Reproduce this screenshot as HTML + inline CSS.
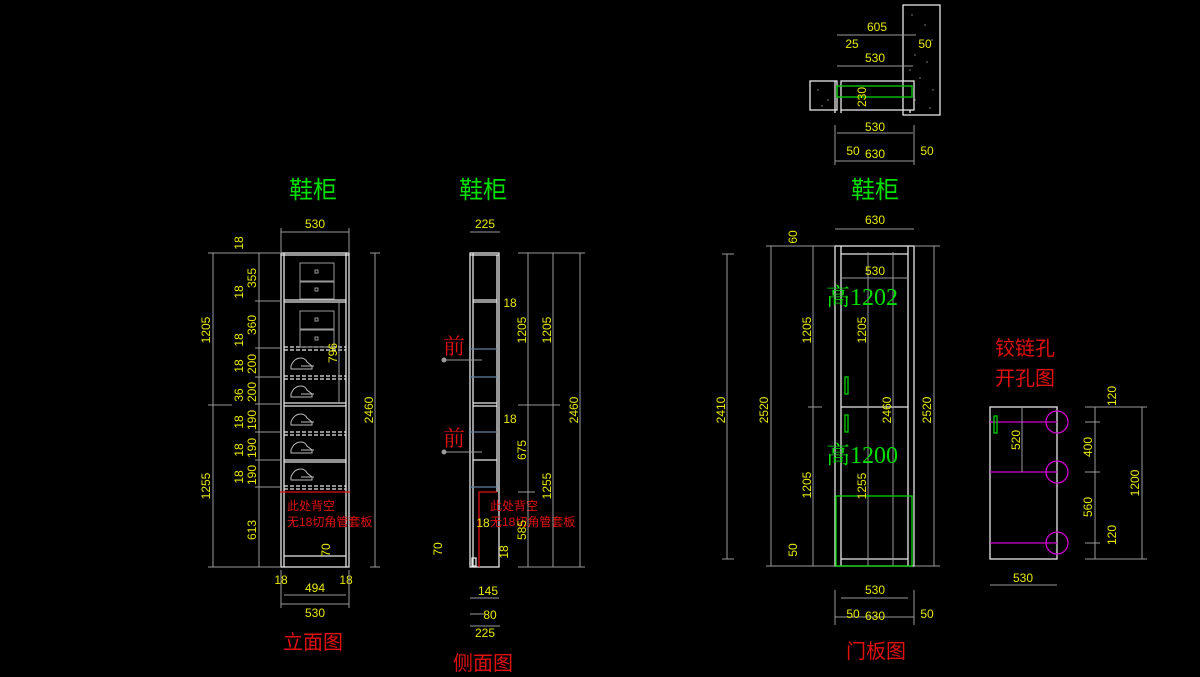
<!DOCTYPE html>
<html><head><meta charset="utf-8"><style>
body{margin:0;background:#000;}
svg{display:block}
text{font-family:"Liberation Sans","Noto Sans CJK SC",sans-serif}
.d{fill:#e8e800;font-size:12px;text-anchor:middle}
.t{fill:#00e000;font-size:24px;text-anchor:middle}
.ts{fill:#00e000;font-size:24px;text-anchor:middle;font-family:"Liberation Serif","Noto Serif CJK SC",serif}
.r{fill:#e01010;font-size:20px;text-anchor:middle}
.rf{fill:#e01010;font-size:22px;text-anchor:middle;font-family:"Liberation Serif","Noto Serif CJK SC",serif}
.rs{fill:#e01010;font-size:12px}
.w{stroke:#e8e8e8;fill:none;stroke-width:1.3}
.g{stroke:#9a9a9a;fill:none;stroke-width:1}
.gr{stroke:#00d000;fill:none;stroke-width:1.3}
.m{stroke:#d000d0;fill:none;stroke-width:1.3}
.bl{stroke:#6080a0;stroke-width:1.3}
</style></head><body>
<svg width="1200" height="677" viewBox="0 0 1200 677" xmlns="http://www.w3.org/2000/svg">
<rect width="1200" height="677" fill="#000"/>

<!-- FRONT VIEW -->
<text x="313" y="198" class="t">鞋柜</text>
<line class="g" x1="281" y1="232" x2="349" y2="232"/><text x="315" y="228" class="d">530</text>
<line class="g" x1="281" y1="228" x2="281" y2="252"/><line class="g" x1="349" y1="228" x2="349" y2="252"/>
<rect class="w" x="281" y="253" width="68" height="314"/>
<line class="w" x1="284" y1="253" x2="284" y2="567"/><line class="w" x1="346" y1="253" x2="346" y2="567"/>
<line class="w" x1="281" y1="255" x2="349" y2="255"/>
<line class="w" x1="284" y1="300" x2="346" y2="300"/><line class="w" x1="284" y1="302" x2="346" y2="302"/>
<g stroke="#e8e8e8" stroke-dasharray="4,2" stroke-width="1.3">
<line x1="284" y1="347" x2="346" y2="347"/><line x1="284" y1="350" x2="346" y2="350"/>
<line x1="284" y1="376" x2="346" y2="376"/><line x1="284" y1="379" x2="346" y2="379"/>
<line x1="284" y1="432" x2="346" y2="432"/><line x1="284" y1="435" x2="346" y2="435"/>
<line x1="284" y1="486" x2="346" y2="486"/><line x1="284" y1="489" x2="346" y2="489"/>
</g>
<line class="w" x1="284" y1="403" x2="346" y2="403"/><line class="w" x1="284" y1="406" x2="346" y2="406"/>
<line class="w" x1="284" y1="460" x2="346" y2="460"/><line class="w" x1="284" y1="462" x2="346" y2="462"/>
<line class="w" x1="284" y1="556" x2="346" y2="556"/>
<g class="g" stroke="#c0c0c0">
<rect x="300" y="263" width="34" height="18"/><rect x="300" y="282" width="34" height="17"/>
<rect x="300" y="311" width="34" height="18"/><rect x="300" y="330" width="34" height="17"/>
<rect x="315" y="270" width="3" height="3"/><rect x="315" y="288" width="3" height="3"/>
<rect x="315" y="318" width="3" height="3"/><rect x="315" y="337" width="3" height="3"/>
</g>
<g stroke="#bbb" fill="none" stroke-width="1">
<path d="M291 366 q3-8 10-8 q4 0 6 4 l5 4 v3 h-21z M301 366 h13"/>
<path d="M291 394 q3-8 10-8 q4 0 6 4 l5 4 v3 h-21z M301 394 h13"/>
<path d="M291 422 q3-8 10-8 q4 0 6 4 l5 4 v3 h-21z M301 422 h13"/>
<path d="M291 450 q3-8 10-8 q4 0 6 4 l5 4 v3 h-21z M301 450 h13"/>
<path d="M291 477 q3-8 10-8 q4 0 6 4 l5 4 v3 h-21z M301 477 h13"/>
</g>
<line x1="280" y1="492" x2="350" y2="492" stroke="#e01010" stroke-width="1.3"/>
<text x="287" y="510" class="rs">此处背空</text><text x="287" y="526" class="rs">无18切角管套板</text>
<line class="g" x1="213" y1="253" x2="213" y2="567"/>
<g class="g"><line x1="208" y1="253" x2="280" y2="253"/><line x1="208" y1="405" x2="232" y2="405"/><line x1="208" y1="567" x2="280" y2="567"/></g>
<line class="g" x1="259" y1="253" x2="259" y2="567"/>
<g class="g"><line x1="255" y1="301" x2="280" y2="301"/><line x1="255" y1="348" x2="280" y2="348"/><line x1="255" y1="377" x2="280" y2="377"/><line x1="255" y1="404" x2="280" y2="404"/><line x1="255" y1="432" x2="280" y2="432"/><line x1="255" y1="460" x2="280" y2="460"/><line x1="255" y1="487" x2="280" y2="487"/></g>
<g class="d">
<text transform="translate(210,330) rotate(-90)">1205</text>
<text transform="translate(210,486) rotate(-90)">1255</text>
<text transform="translate(243,243) rotate(-90)">18</text>
<text transform="translate(256,278) rotate(-90)">355</text>
<text transform="translate(243,292) rotate(-90)">18</text>
<text transform="translate(256,325) rotate(-90)">360</text>
<text transform="translate(243,340) rotate(-90)">18</text>
<text transform="translate(256,364) rotate(-90)">200</text>
<text transform="translate(243,366) rotate(-90)">18</text>
<text transform="translate(256,392) rotate(-90)">200</text>
<text transform="translate(243,395) rotate(-90)">36</text>
<text transform="translate(256,420) rotate(-90)">190</text>
<text transform="translate(243,422) rotate(-90)">18</text>
<text transform="translate(256,448) rotate(-90)">190</text>
<text transform="translate(243,450) rotate(-90)">18</text>
<text transform="translate(256,475) rotate(-90)">190</text>
<text transform="translate(243,477) rotate(-90)">18</text>
<text transform="translate(256,530) rotate(-90)">613</text>
<text transform="translate(330,550) rotate(-90)">70</text>
<text transform="translate(337,353) rotate(-90)">796</text>
<text transform="translate(373,410) rotate(-90)">2460</text>
</g>
<line class="g" x1="339" y1="301" x2="339" y2="404"/>
<line class="g" x1="375" y1="253" x2="375" y2="567"/>
<line class="g" x1="370" y1="253" x2="380" y2="253"/><line class="g" x1="370" y1="567" x2="380" y2="567"/>
<text x="281" y="584" class="d">18</text><text x="346" y="584" class="d">18</text>
<line class="g" x1="284" y1="595" x2="346" y2="595"/><text x="315" y="592" class="d">494</text>
<line class="g" x1="281" y1="604" x2="349" y2="604"/><text x="315" y="617" class="d">530</text>
<line class="g" x1="281" y1="570" x2="281" y2="608"/><line class="g" x1="349" y1="570" x2="349" y2="608"/>
<text x="313" y="649" class="r">立面图</text>

<!-- SIDE VIEW -->
<text x="483" y="198" class="t">鞋柜</text>
<line class="g" x1="470" y1="232" x2="500" y2="232"/><text x="485" y="228" class="d">225</text>
<rect class="w" x="470" y="253" width="29" height="314"/>
<line class="w" x1="473" y1="253" x2="473" y2="567"/><line class="w" x1="497" y1="255" x2="497" y2="492"/>
<line class="w" x1="470" y1="255" x2="499" y2="255"/>
<line class="w" x1="473" y1="300" x2="497" y2="300"/><line class="w" x1="473" y1="302" x2="497" y2="302"/>
<line class="bl" x1="470" y1="349" x2="497" y2="349"/><line class="bl" x1="470" y1="377" x2="497" y2="377"/>
<line class="w" x1="473" y1="403" x2="497" y2="403"/><line class="w" x1="473" y1="406" x2="497" y2="406"/>
<line class="bl" x1="470" y1="432" x2="497" y2="432"/>
<line class="w" x1="473" y1="460" x2="497" y2="460"/>
<line class="bl" x1="470" y1="487" x2="497" y2="487"/>
<rect class="w" x="472" y="558" width="4" height="8"/>
<polyline points="497,492 479,492 479,567" fill="none" stroke="#e01010" stroke-width="1.3"/>
<text x="454" y="354" class="rf">前</text><text x="454" y="446" class="rf">前</text>
<circle cx="444" cy="360" r="2.5" fill="#999"/><line class="g" x1="444" y1="360" x2="482" y2="360"/>
<circle cx="444" cy="452" r="2.5" fill="#999"/><line class="g" x1="444" y1="452" x2="482" y2="452"/>
<text x="490" y="510" class="rs">此处背空</text><text x="490" y="526" class="rs">无18切角管套板</text>
<g class="g">
<line x1="528" y1="253" x2="528" y2="567"/><line x1="553" y1="253" x2="553" y2="567"/><line x1="580" y1="253" x2="580" y2="567"/>
<line x1="518" y1="253" x2="585" y2="253"/><line x1="518" y1="405" x2="560" y2="405"/><line x1="518" y1="492" x2="535" y2="492"/><line x1="518" y1="567" x2="585" y2="567"/>
</g>
<g class="d">
<text x="510" y="307">18</text><text x="510" y="423">18</text><text x="483" y="527">18</text>
<text transform="translate(526,330) rotate(-90)">1205</text>
<text transform="translate(551,330) rotate(-90)">1205</text>
<text transform="translate(526,450) rotate(-90)">675</text>
<text transform="translate(551,486) rotate(-90)">1255</text>
<text transform="translate(526,530) rotate(-90)">585</text>
<text transform="translate(578,410) rotate(-90)">2460</text>
<text transform="translate(442,549) rotate(-90)">70</text>
<text transform="translate(508,552) rotate(-90)">18</text>
</g>
<line class="g" x1="470" y1="598" x2="499" y2="598"/><text x="488" y="595" class="d">145</text>
<line class="g" x1="470" y1="614" x2="485" y2="614"/><text x="490" y="619" class="d">80</text>
<line class="g" x1="470" y1="626" x2="500" y2="626"/><text x="485" y="637" class="d">225</text>
<text x="483" y="670" class="r">侧面图</text>

<!-- DOOR VIEW -->
<text x="875" y="198" class="t">鞋柜</text>
<line class="g" x1="835" y1="229" x2="914" y2="229"/><text x="875" y="224" class="d">630</text>
<rect class="w" x="835" y="246" width="79" height="320"/>
<line class="w" x1="841" y1="246" x2="841" y2="566"/><line class="w" x1="908" y1="246" x2="908" y2="566"/>
<line class="w" x1="841" y1="254" x2="908" y2="254"/><line class="w" x1="841" y1="407" x2="908" y2="407"/><line class="w" x1="841" y1="559" x2="908" y2="559"/>
<line class="g" x1="868" y1="252" x2="868" y2="566"/><line class="g" x1="893" y1="252" x2="893" y2="566"/>
<line class="g" x1="841" y1="278" x2="908" y2="278"/><text x="875" y="275" class="d">530</text>
<rect class="gr" x="836" y="496" width="76" height="70"/>
<rect class="gr" x="845" y="377" width="3" height="17"/><rect class="gr" x="845" y="415" width="3" height="17"/>
<text x="862" y="305" class="ts">高1202</text><text x="862" y="463" class="ts">高1200</text>
<g class="g">
<line x1="727" y1="254" x2="727" y2="559"/><line x1="771" y1="246" x2="771" y2="566"/><line x1="813" y1="246" x2="813" y2="566"/><line x1="934" y1="246" x2="934" y2="566"/>
<line x1="722" y1="254" x2="734" y2="254"/><line x1="722" y1="559" x2="734" y2="559"/>
<line x1="766" y1="246" x2="835" y2="246"/><line x1="766" y1="566" x2="835" y2="566"/><line x1="808" y1="407" x2="822" y2="407"/>
<line x1="914" y1="246" x2="940" y2="246"/><line x1="914" y1="566" x2="940" y2="566"/>
</g>
<g class="d">
<text transform="translate(725,410) rotate(-90)">2410</text>
<text transform="translate(768,410) rotate(-90)">2520</text>
<text transform="translate(811,330) rotate(-90)">1205</text>
<text transform="translate(811,485) rotate(-90)">1205</text>
<text transform="translate(797,237) rotate(-90)">60</text>
<text transform="translate(797,550) rotate(-90)">50</text>
<text transform="translate(866,330) rotate(-90)">1205</text>
<text transform="translate(891,410) rotate(-90)">2460</text>
<text transform="translate(866,486) rotate(-90)">1255</text>
<text transform="translate(931,410) rotate(-90)">2520</text>
</g>
<line class="g" x1="841" y1="598" x2="908" y2="598"/><text x="875" y="594" class="d">530</text>
<line class="g" x1="835" y1="617" x2="914" y2="617"/><text x="875" y="620" class="d">630</text>
<text x="853" y="618" class="d">50</text><text x="927" y="618" class="d">50</text>
<line class="g" x1="835" y1="590" x2="835" y2="625"/><line class="g" x1="914" y1="590" x2="914" y2="625"/>
<text x="876" y="658" class="r">门板图</text>

<!-- TOP PLAN -->
<rect class="w" x="903" y="5" width="37" height="110"/>
<rect class="w" x="810" y="81" width="27" height="29"/>
<rect class="w" x="841" y="81" width="73" height="29"/>
<line class="w" x1="835" y1="81" x2="835" y2="113"/><line class="w" x1="841" y1="110" x2="841" y2="113"/><line class="w" x1="910" y1="110" x2="910" y2="113"/>
<rect class="gr" x="837" y="86" width="75" height="11"/>
<g fill="#999"><circle cx="912" cy="15" r=".7"/><circle cx="925" cy="25" r=".7"/><circle cx="932" cy="40" r=".7"/><circle cx="915" cy="55" r=".7"/><circle cx="927" cy="62" r=".7"/><circle cx="920" cy="78" r=".7"/><circle cx="933" cy="90" r=".7"/><circle cx="915" cy="100" r=".7"/><circle cx="930" cy="108" r=".7"/><circle cx="818" cy="90" r=".7"/><circle cx="828" cy="100" r=".7"/><circle cx="822" cy="106" r=".7"/><circle cx="910" cy="70" r=".7"/></g>
<line class="g" x1="837" y1="35" x2="916" y2="35"/><text x="877" y="31" class="d">605</text>
<line class="g" x1="837" y1="66" x2="913" y2="66"/><text x="875" y="62" class="d">530</text>
<text x="852" y="48" class="d">25</text><text x="925" y="48" class="d">50</text>
<text transform="translate(866,97) rotate(-90)" class="d">230</text>
<line class="g" x1="837" y1="133" x2="913" y2="133"/><text x="875" y="131" class="d">530</text>
<line class="g" x1="835" y1="161" x2="914" y2="161"/><text x="875" y="158" class="d">630</text>
<text x="853" y="155" class="d">50</text><text x="927" y="155" class="d">50</text>
<line class="g" x1="835" y1="125" x2="835" y2="165"/><line class="g" x1="914" y1="125" x2="914" y2="165"/>

<!-- HINGE -->
<text x="1025" y="355" class="r">铰链孔</text><text x="1025" y="385" class="r">开孔图</text>
<rect class="w" x="990" y="407" width="67" height="152"/>
<line class="m" x1="990" y1="422" x2="1057" y2="422"/><line class="m" x1="990" y1="472" x2="1057" y2="472"/><line class="m" x1="990" y1="543" x2="1057" y2="543"/>
<circle class="m" cx="1057" cy="422" r="11"/><circle class="m" cx="1057" cy="472" r="11"/><circle class="m" cx="1057" cy="543" r="11"/>
<rect class="gr" x="994" y="416" width="3" height="17"/>
<line class="g" x1="1022" y1="407" x2="1022" y2="472"/>
<g class="g"><line x1="1095" y1="407" x2="1095" y2="559"/><line x1="1142" y1="407" x2="1142" y2="559"/>
<line x1="1085" y1="407" x2="1147" y2="407"/><line x1="1085" y1="422" x2="1100" y2="422"/><line x1="1085" y1="472" x2="1100" y2="472"/><line x1="1085" y1="543" x2="1100" y2="543"/><line x1="1085" y1="559" x2="1147" y2="559"/></g>
<g class="d">
<text transform="translate(1020,440) rotate(-90)">520</text>
<text transform="translate(1116,396) rotate(-90)">120</text>
<text transform="translate(1092,447) rotate(-90)">400</text>
<text transform="translate(1092,507) rotate(-90)">560</text>
<text transform="translate(1116,535) rotate(-90)">120</text>
<text transform="translate(1139,483) rotate(-90)">1200</text>
</g>
<line class="g" x1="990" y1="585" x2="1057" y2="585"/><text x="1023" y="582" class="d">530</text>
</svg>
</body></html>
